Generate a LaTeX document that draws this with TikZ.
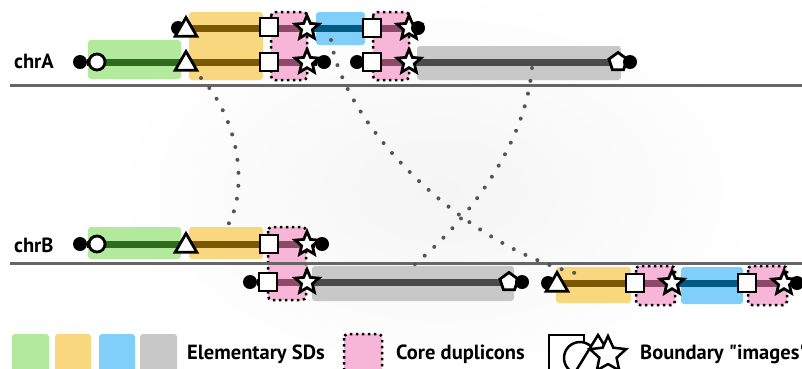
\documentclass[tikz,border=0pt]{standalone}
\usepackage{fontspec}
\setmainfont{PT Sans}[Ligatures=TeXOff]
\usetikzlibrary{shapes.geometric}

\definecolor{sdgreen}{HTML}{B2E99C}
\definecolor{sdyellow}{HTML}{F8D77E}
\definecolor{sdblue}{HTML}{80CFFA}
\definecolor{sdgray}{HTML}{C8C8C8}
\definecolor{corepink}{HTML}{F7B5D8}
\definecolor{trgreen}{HTML}{2F6B1C}
\definecolor{tryellow}{HTML}{7A5806}
\definecolor{trblue}{HTML}{005A84}
\definecolor{trgray}{HTML}{4A4A4A}
\definecolor{trpink}{HTML}{8C4A68}
\definecolor{linkgray}{HTML}{555555}
\definecolor{chrline}{HTML}{666666}

\pgfdeclarelayer{back}
\pgfdeclarelayer{mid}
\pgfsetlayers{back,mid,main}

\tikzset{
  sdbox/.style={rounded corners=3pt},
  corebox/.style={fill=corepink, draw=black, line width=2.5pt, dash pattern=on 2.5pt off 3.5pt, rounded corners=4pt},
  track/.style={line width=7pt},
  telo/.style={circle, fill=black, minimum size=14pt, inner sep=0pt},
  bnd/.style={draw=black, fill=white, line width=2.8pt, inner sep=0pt},
  bcirc/.style={bnd, circle, minimum size=16pt},
  btri/.style={bnd, regular polygon, regular polygon sides=3, minimum size=25pt},
  bsq/.style={bnd, rectangle, minimum size=18pt},
  bstar/.style={bnd, star, star points=5, star point ratio=2.2, minimum size=25pt},
  bpent/.style={bnd, regular polygon, regular polygon sides=5, minimum size=19pt},
  link/.style={draw=linkgray, line width=4pt, line cap=round, dash pattern=on 0pt off 13pt},
  lbl/.style={anchor=base west, inner sep=0pt, font=\fontsize{20.5}{22}\selectfont\bfseries},
}

\begin{document}
\begin{tikzpicture}[x=1pt, y=-1pt]
\useasboundingbox (0,0) rectangle (802,368);

\begin{pgfonlayer}{back}
\shade[inner color=black!4, outer color=white] (440,190) ellipse (330pt and 200pt);
% chrA segments
\fill[sdgreen, sdbox] (88,40) rectangle (181,79);
\fill[sdyellow, sdbox] (189,12) rectangle (263,80);
\path[corebox] (271,12) rectangle (307,80);
\fill[sdblue, sdbox] (316,12) rectangle (365,45);
\path[corebox] (373,12) rectangle (409,80);
\fill[sdgray, sdbox] (417,46) rectangle (621,80);
% chrB segments
\fill[sdgreen, sdbox] (88,227) rectangle (181,259);
\fill[sdyellow, sdbox] (189,227) rectangle (263,259);
\path[corebox] (268,227) rectangle (306,300);
\fill[sdgray, sdbox] (312,266) rectangle (514,301);
\fill[sdyellow, sdbox] (556,267) rectangle (631,303);
\path[corebox] (636,266) rectangle (675,305);
\fill[sdblue, sdbox] (681,267) rectangle (743,304);
\path[corebox] (748,266) rectangle (787,305);
% chromosomes
\draw[chrline, line width=3pt] (10,85) -- (802,85);
\draw[chrline, line width=3pt] (10,263) -- (802,263);
\end{pgfonlayer}

\node[lbl] (lblA) at (14,68) {chrA};
\node[lbl] (lblB) at (14,252) {chrB};

% chrA, duplicated copy on top
\node[telo] (tA0) at (178,28) {};
\node[btri] (triA0) at (186,30) {};
\node[bsq] (sqA0) at (269,27) {};
\node[bstar] (starA0) at (307,28) {};
\node[bsq] (sqA1) at (372,28) {};
\node[bstar] (starA1) at (409,28) {};
\node[telo] (tA1) at (418,28) {};
% chrA
\node[telo] (tA2) at (80,62) {};
\node[bcirc] (circA) at (97,62) {};
\node[btri] (triA1) at (186,64) {};
\node[bsq] (sqA2) at (269,62) {};
\node[bstar] (starA2) at (307,62) {};
\node[telo] (tA3) at (324,62) {};
\node[telo] (tA4) at (357,62) {};
\node[bsq] (sqA3) at (372,62) {};
\node[bstar] (starA3) at (409,62) {};
\node[bpent] (pentA) at (618,62) {};
\node[telo] (tA5) at (630,62) {};
% chrB
\node[telo] (tB0) at (80,244) {};
\node[bcirc] (circB) at (97,244) {};
\node[btri] (triB0) at (186,246) {};
\node[bsq] (sqB0) at (269,244) {};
\node[bstar] (starB0) at (307,244) {};
\node[telo] (tB1) at (322,244) {};
% chrB, below the line
\node[telo] (tB2) at (250,282) {};
\node[bsq] (sqB1) at (268,282) {};
\node[bstar] (starB1) at (307,282) {};
\node[bpent] (pentB) at (509,282) {};
\node[telo] (tB3) at (522,282) {};
\node[telo] (tB4) at (548,283) {};
\node[btri] (triB1) at (557,285) {};
\node[bsq] (sqB2) at (635,283) {};
\node[bstar] (starB2) at (672,283) {};
\node[bsq] (sqB3) at (747,283) {};
\node[bstar] (starB3) at (784,283) {};
\node[telo] (tB5) at (797,283) {};

\begin{pgfonlayer}{mid}
% links between copies
\coordinate (lk1a) at (201,78);  \coordinate (lk1b) at (228,225);
\coordinate (lk2a) at (331,40);  \coordinate (lk2b) at (583,275);
\coordinate (lk3a) at (532,68);  \coordinate (lk3b) at (405,272);
\draw[link] (lk1a) .. controls (240,120) and (248,190) .. (lk1b);
\draw[link] (lk2a) .. controls (345,130) and (470,250) .. (lk2b);
\draw[link] (lk3a) .. controls (525,150) and (460,230) .. (lk3b);

% tracks
\draw[track, black] (tA0) -- (triA0.center |- tA0);
\draw[track, tryellow] (triA0.center |- tA0) -- (sqA0.center |- tA0);
\draw[track, trpink] (sqA0.center |- tA0) -- (starA0.center);
\draw[track, trblue] (starA0.center) -- (sqA1.center);
\draw[track, trpink] (sqA1.center) -- (starA1.center);
\draw[track, black] (starA1.center) -- (tA1);

\draw[track, black] (tA2) -- (circA.center);
\draw[track, trgreen] (circA.center) -- (triA1.center |- circA);
\draw[track, tryellow] (triA1.center |- circA) -- (sqA2.center);
\draw[track, trpink] (sqA2.center) -- (starA2.center);
\draw[track, black] (starA2.center) -- (tA3);
\draw[track, black] (tA4) -- (sqA3.center);
\draw[track, trpink] (sqA3.center) -- (starA3.center);
\draw[track, trgray] (starA3.center) -- (pentA.center);
\draw[track, black] (pentA.center) -- (tA5);

\draw[track, black] (tB0) -- (circB.center);
\draw[track, trgreen] (circB.center) -- (triB0.center |- circB);
\draw[track, tryellow] (triB0.center |- circB) -- (sqB0.center);
\draw[track, trpink] (sqB0.center) -- (starB0.center);
\draw[track, black] (starB0.center) -- (tB1);

\draw[track, black] (tB2) -- (sqB1.center);
\draw[track, trpink] (sqB1.center) -- (starB1.center);
\draw[track, trgray] (starB1.center) -- (pentB.center);
\draw[track, black] (pentB.center) -- (tB3);

\draw[track, black] (tB4) -- (triB1.center |- tB4);
\draw[track, tryellow] (triB1.center |- tB4) -- (sqB2.center);
\draw[track, trpink] (sqB2.center) -- (starB2.center);
\draw[track, trblue] (starB2.center) -- (sqB3.center);
\draw[track, trpink] (sqB3.center) -- (starB3.center);
\draw[track, black] (starB3.center) -- (tB5);
\end{pgfonlayer}

% legend
\fill[sdgreen, sdbox] (12,334) rectangle (49,374);
\fill[sdyellow, sdbox] (55,334) rectangle (91,374);
\fill[sdblue, sdbox] (99,334) rectangle (135,374);
\fill[sdgray, sdbox] (140,334) rectangle (177,374);
\node[lbl] (lgElem) at (187,359) {Elementary SDs};
\path[corebox] (344,334) rectangle (382,374);
\node[lbl] (lgCore) at (396,359) {Core duplicons};
\filldraw[fill=white, line width=2.5pt] (549,335) rectangle (584,374);
\filldraw[fill=white, line width=2.5pt] (580,358) circle (16pt);
\filldraw[fill=white, line width=2.5pt] (598,335) -- (622,374) -- (574,374) -- cycle;
\node[bnd, line width=2.5pt, star, star points=5, star point ratio=2.1, minimum size=38pt] (lgStar) at (608,355) {};
\node[lbl] (lgBound) at (640,359) {Boundary "images"};
\end{tikzpicture}
\end{document}
